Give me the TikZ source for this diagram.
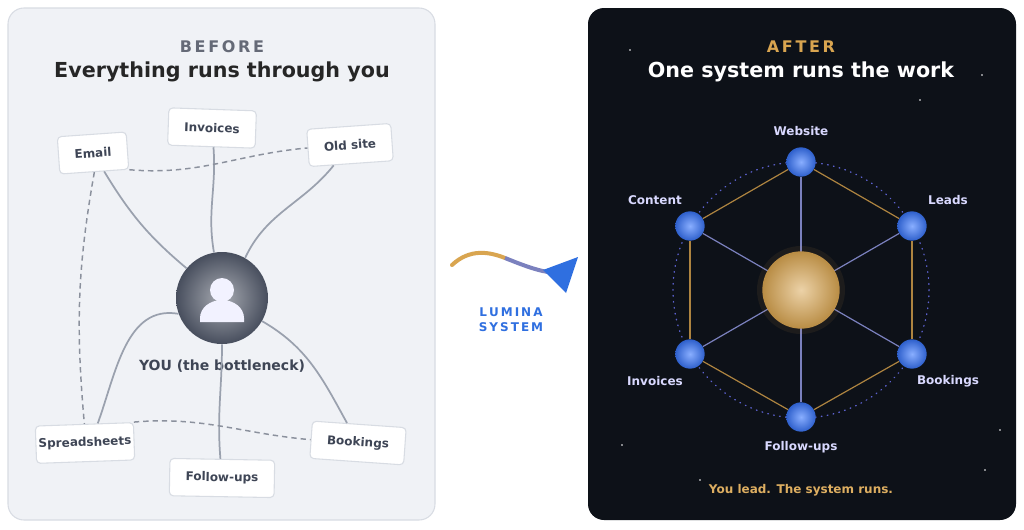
\documentclass[tikz,border=0pt]{standalone}
\usepackage{fontspec}
\setmainfont{DejaVu Sans}
\usetikzlibrary{calc}
\definecolor{lbg}{HTML}{F0F2F6}
\definecolor{lbd}{HTML}{D8DCE3}
\definecolor{dbg}{HTML}{0D1118}
\definecolor{ink}{HTML}{3E4555}
\definecolor{edge}{HTML}{9AA1AE}
\definecolor{gold}{HTML}{D9A550}
\definecolor{blu}{HTML}{2F6FE0}
\definecolor{bb}{HTML}{3A78FF}
\tikzset{
 box/.style={draw=lbd,fill=white,rounded corners=3pt,minimum height=28pt,inner xsep=12pt,font=\bfseries\small,text=ink,line width=0.8pt},
 ln/.style={edge,line width=1.3pt},
 dl/.style={edge!90!black,line width=1.1pt,dashed,dash pattern=on 4pt off 3pt},
 ball/.style={circle,minimum size=22pt,inner sep=0,inner color=bb!60!white,outer color=bb!80!black},
 rl/.style={text=white!85!blue,font=\bfseries\small},
 spoke/.style={line width=0.9pt,color=edge!80!blue},
 rim/.style={line width=0.9pt,color=gold!80!black},
}
\begin{document}
\begin{tikzpicture}[x=0.75pt,y=-0.75pt]
\useasboundingbox (0,0) rectangle (1024,529);
\fill[white] (0,0) rectangle (1024,529);
% left panel
\draw[fill=lbg,draw=lbd,rounded corners=12pt,line width=0.8pt] (8,8) rectangle (435,520);
\node[text=ink!80,font=\bfseries\large] (bt) at (222,47) {B\,E\,F\,O\,R\,E};
\node[text=black!85,font=\bfseries\fontsize{15.5}{18}\selectfont] (bh) at (222,72) {Everything runs through you};
\node[circle,minimum size=69pt,inner sep=0,inner color=ink!45,outer color=ink!95] (you) at (222,298) {};
\fill[white!95!blue] (222,290) circle (12);
\fill[white!95!blue] (200,322) -- (200,318) arc[start angle=180,end angle=0,x radius=22,y radius=-18] -- (244,322) -- cycle;
\node[text=ink,font=\bfseries\fontsize{10.5}{12}\selectfont] (youl) at (222,366) {YOU (the bottleneck)};
\node[box,rotate=4] (email) at (93,153) {Email};
\node[box,rotate=-2] (inv) at (212,128) {Invoices};
\node[box,rotate=4] (old) at (350,145) {Old site};
\node[box,rotate=2,inner xsep=2pt] (spr) at (85,443) {Spreadsheets};
\node[box,rotate=-1] (fol) at (222,478) {Follow-ups};
\node[box,rotate=-4] (book) at (358,443) {Bookings};
\draw[ln] (email) to[out=-60,in=140] (you);
\draw[ln] (inv) to[out=-85,in=100] (you.100);
\draw[ln] (old) to[out=-130,in=65] (you.60);
\draw[ln] (you.200) to[out=170,in=70] (spr.55);
\draw[ln] (you.-90) to[out=-90,in=95] (fol);
\draw[ln] (you.-30) to[out=-30,in=120] (book);
\draw[dl] (email.south east) to[out=-5,in=185] (old.west);
\draw[dl] (email.south) to[out=-100,in=95] (spr.north);
\draw[dl] (spr.north east) to[out=5,in=175] (book.west);
% arrow
\draw[gold,line width=3pt,line cap=round] (452,265) .. controls (470,248) and (490,252) .. (505,258);
\draw[edge!80!blue,line width=3pt] (505,258) .. controls (520,264) and (535,270) .. (548,272);
\fill[blu] (543,270) -- (578,257) -- (566,293) -- cycle;
\node[text=blu,font=\bfseries\small,align=center] (lum) at (511,320) {L\,U\,M\,I\,N\,A\\S\,Y\,S\,T\,E\,M};
% right panel
\fill[dbg,rounded corners=12pt] (588,8) rectangle (1016,520);
\foreach \p in {(630,50),(982,75),(622,445),(1000,430),(985,470),(700,480),(920,100)} \fill[white!70] \p circle (0.9);
\node[text=gold,font=\bfseries\large] (at) at (801,47) {A\,F\,T\,E\,R};
\node[text=white,font=\bfseries\fontsize{15.5}{18}\selectfont] (ah) at (801,72) {One system runs the work};
\draw[edge!60!blue,line width=1pt,dash pattern=on 0.5pt off 4pt,line cap=round] (801,290) circle (128);
\coordinate (c) at (801,290);
\node[ball] (w) at (801,162) {};
\node[ball] (l) at (912,226) {};
\node[ball] (b) at (912,354) {};
\node[ball] (f) at (801,417) {};
\node[ball] (i) at (690,354) {};
\node[ball] (co) at (690,226) {};
\foreach \a/\b in {w/l,l/b,b/f,f/i,i/co,co/w} \draw[rim] (\a) -- (\b);
\foreach \a in {w,l,b,f,i,co} \draw[spoke] (c) -- (\a);
\fill[gold,opacity=0.08] (801,290) circle (44);
\node[circle,minimum size=58pt,inner sep=0,inner color=gold!50!white,outer color=gold!85!black] (core) at (801,290) {};
\node[rl] (wl) at (801,131) {Website};
\node[rl] (ll) at (948,200) {Leads};
\node[rl] (bl) at (948,381) {Bookings};
\node[rl] (fl) at (801,447) {Follow-ups};
\node[rl] (il) at (655,381) {Invoices};
\node[rl] (cl) at (655,200) {Content};
\node[text=gold!90!white,font=\bfseries\small] (tag) at (801,490) {You lead. The system runs.};
\end{tikzpicture}
\end{document}
